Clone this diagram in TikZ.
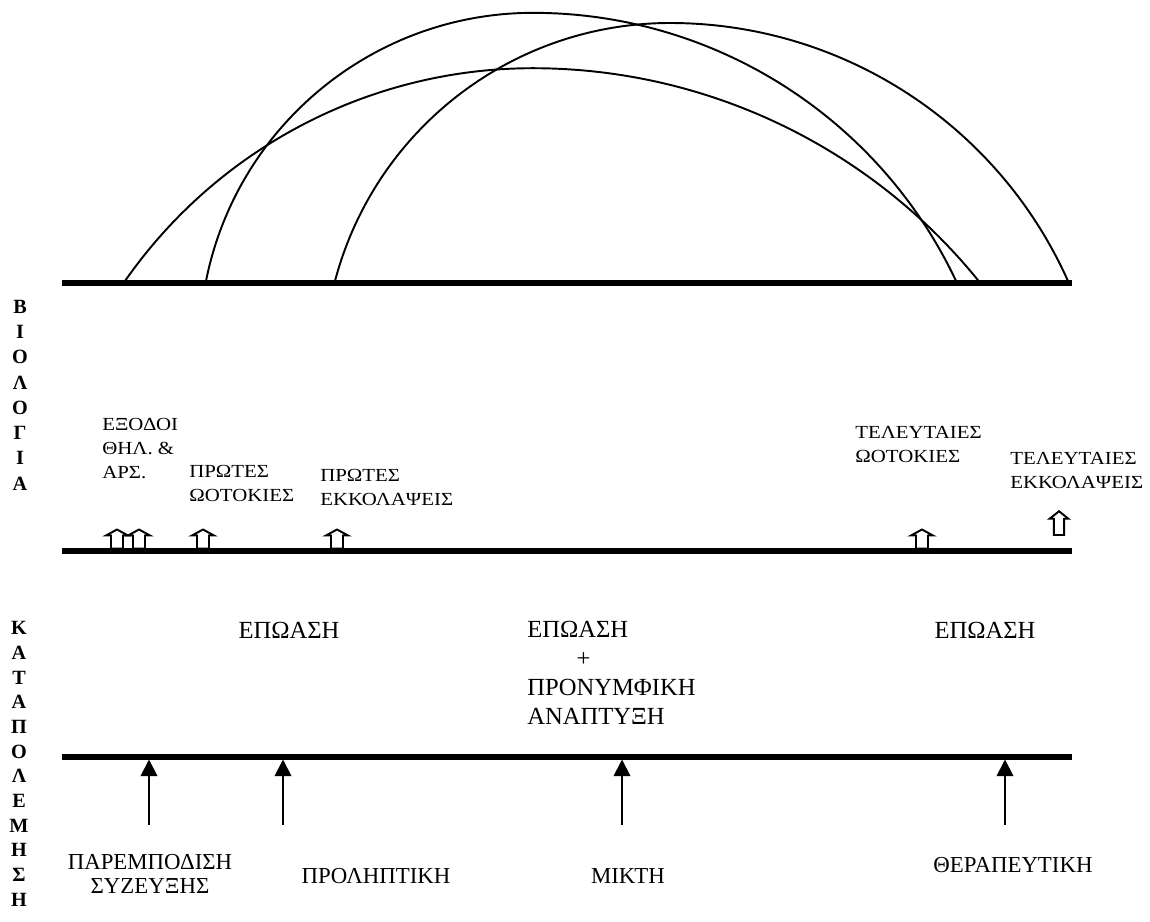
\documentclass[tikz,border=0pt]{standalone}
\usepackage{fontspec}
\setmainfont{Liberation Serif}
\newfontfamily\widefont[FakeStretch=1.13]{Liberation Serif}
\usetikzlibrary{arrows.meta}

\begin{document}
\begin{tikzpicture}[x=0.02cm,y=0.02cm,
		axis/.style={line width=2.85pt},
		flight/.style={line width=1.1pt},
		hol/.style={draw=black,fill=white,line width=1.1pt},
		stem/.style={-{Triangle[width=9.5pt,length=9.5pt]},line width=1.1pt},
		vlet/.style={font=\fontsize{11.5}{13}\selectfont\bfseries,inner sep=0pt},
		evlbl/.style={font=\widefont\fontsize{10.5}{13.5}\selectfont,align=left,anchor=base west,inner sep=0pt},
		phase/.style={font=\fontsize{14}{16.5}\selectfont,inner sep=0pt},
		ctrl/.style={font=\fontsize{13}{13.5}\selectfont,align=center,anchor=base,inner sep=0pt},
		hollow/.pic={\draw[hol] (-6,0) -- (-6,13) -- (-11,13) -- (0,19) -- (11,13) -- (6,13) -- (6,0) -- cycle;}]
		\useasboundingbox (0,0) rectangle (1150,921);
		
		%asse biologia e voli
		\draw[axis] (62,638) -- (1072,638);
		\draw[flight] (125,640) arc[start angle=145.1,end angle=90,radius=497.3] arc[start angle=90,end angle=38.9,radius=573.4];
		\draw[flight] (206,640) arc[start angle=168.7,end angle=90,radius=333.5] arc[start angle=90,end angle=25.3,radius=467.8];
		\draw[flight] (335,640) arc[start angle=165.2,end angle=90,radius=346.5] arc[start angle=90,end angle=24.1,radius=436];
		
		\foreach \l [count=\i] in {Β,Ι,Ο,Λ,Ο,Γ,Ι,Α}
		\node[vlet] (bio\i) at (20,{639.2-25.2*\i}) {\l};
		\foreach \l [count=\i] in {Κ,Α,Τ,Α,Π,Ο,Λ,Ε,Μ,Η,Σ,Η}
		\node[vlet] (ctl\i) at (19,{317.7-24.7*\i}) {\l};
		
		%eventi
		\draw[axis] (62,370) -- (1072,370);
		\foreach \x in {117,139,203,337,922}
		\pic at (\x,372.5) {hollow};
		\pic[xscale=.85,yscale=1.25] at (1059,386) {hollow};
		
		\node[evlbl] (exits) at (102,443) {ΕΞΟΔΟΙ\\ΘΗΛ. \&\\ΑΡΣ.};
		\node[evlbl] (firstov) at (189,420) {ΠΡΩΤΕΣ\\ΩΟΤΟΚΙΕΣ};
		\node[evlbl] (firsthat) at (320,416) {ΠΡΩΤΕΣ\\ΕΚΚΟΛΑΨΕΙΣ};
		\node[evlbl] (lastov) at (855,459) {ΤΕΛΕΥΤΑΙΕΣ\\ΩΟΤΟΚΙΕΣ};
		\node[evlbl] (lasthat) at (1010,433) {ΤΕΛΕΥΤΑΙΕΣ\\ΕΚΚΟΛΑΨΕΙΣ};
		
		\node[phase,anchor=base] (inc1) at (289,283) {ΕΠΩΑΣΗ};
		\node[phase,anchor=base west,align=left] (inc2) at (527,197) {ΕΠΩΑΣΗ\\\hspace*{2em}+\\ΠΡΟΝΥΜΦΙΚΗ\\ΑΝΑΠΤΥΞΗ};
		\node[phase,anchor=base] (inc3) at (985,283) {ΕΠΩΑΣΗ};
		
		%interventi
		\draw[axis] (62,164) -- (1072,164);
		\foreach \n/\x in {1/149,2/283,3/622,4/1005} {
			\coordinate (foot\n) at (\x,96);
			\coordinate (tip\n) at (\x,161.5);
			\draw[stem] (foot\n) -- (tip\n);
		}
		\node[ctrl] (mate) at (150,28) {ΠΑΡΕΜΠΟΔΙΣΗ\\ΣΥΖΕΥΞΗΣ};
		\node[ctrl] (prev) at (376,38) {ΠΡΟΛΗΠΤΙΚΗ};
		\node[ctrl] (mixed) at (628,38) {ΜΙΚΤΗ};
		\node[ctrl] (cure) at (1013,49) {ΘΕΡΑΠΕΥΤΙΚΗ};
\end{tikzpicture}
\end{document}
